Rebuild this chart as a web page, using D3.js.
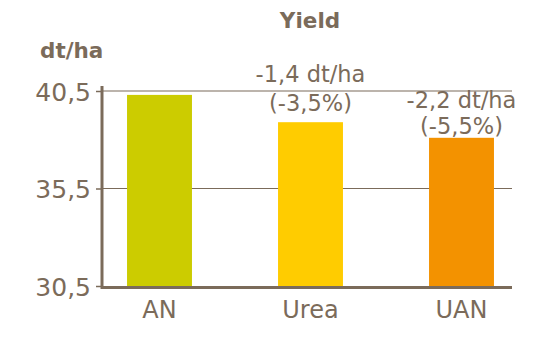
<!DOCTYPE html>
<html>
<head>
<meta charset="utf-8">
<script src="https://cdn.jsdelivr.net/npm/d3@7"></script>
<style>
  body { margin: 0; background: #fff; }
  text { font-family: "DejaVu Sans", "Open Sans", sans-serif; fill: #7b6b5a; }
</style>
</head>
<body>
<div id="chart"></div>
<script>
// data
var categories = ["AN", "Urea", "UAN"];
var values = [40.3, 38.9, 38.1];
var colors = ["#cccc00", "#ffcc00", "#f39200"];
var diffLabels = ["", "-1,4 dt/ha", "-2,2 dt/ha"];
var pctLabels = ["", "(-3,5%)", "(-5,5%)"];
var yTicks = [30.5, 35.5, 40.5];

// label placement above the bars (px above bar top: first line, second line)
var labelOffset = { "Urea": [40, 11], "UAN": [29.5, 4] };

var width = 551, height = 352;
var ink = "#7b6b5a";
var fmt = function(d) { return d3.format(".1f")(d).replace(".", ","); };

var svg = d3.select("#chart")
    .append("svg")
    .attr("width", width)
    .attr("height", height);

var x = d3.scaleBand()
    .domain(categories)
    .range([84, 537])
    .paddingInner(0.57)
    .paddingOuter(0.285);

var y = d3.scaleLinear()
    .domain([30.5, 40.5])
    .range([286, 91]);

var left = 102, right = 512;

// grid lines
svg.append("g")
  .selectAll("line")
  .data(yTicks.slice(1))
  .enter().append("line")
    .attr("x1", left).attr("x2", right)
    .attr("y1", function(d) { return y(d); })
    .attr("y2", function(d) { return y(d); })
    .style("stroke", ink)
    .style("stroke-width", 1.2);

// bars
svg.append("g")
  .selectAll("rect")
  .data(values)
  .enter().append("rect")
    .attr("x", function(d, i) { return x(categories[i]); })
    .attr("width", x.bandwidth())
    .attr("y", function(d) { return y(d); })
    .attr("height", function(d) { return y(30.5) - y(d); })
    .style("fill", function(d, i) { return colors[i]; });

// y axis
var yAxis = svg.append("g")
    .attr("transform", "translate(" + left + ",0)")
    .call(d3.axisLeft(y).tickValues(yTicks).tickFormat(fmt).tickSize(6).tickPadding(5));
yAxis.select(".domain").remove();
yAxis.selectAll(".tick line").style("stroke", ink).style("stroke-width", 1.5);
yAxis.selectAll(".tick text")
    .style("font-size", "25px")
    .style("font-family", "'DejaVu Sans', sans-serif")
    .style("fill", ink)
    .attr("dy", "0.36em");
svg.append("line")
    .attr("x1", left).attr("x2", left)
    .attr("y1", 86).attr("y2", 289)
    .style("stroke", ink).style("stroke-width", 3);

// x axis
svg.append("line")
    .attr("x1", left).attr("x2", right)
    .attr("y1", 287.5).attr("y2", 287.5)
    .style("stroke", ink).style("stroke-width", 3);

svg.append("g")
  .selectAll("text")
  .data(categories)
  .enter().append("text")
    .attr("x", function(d) { return x(d) + x.bandwidth() / 2; })
    .attr("y", 318)
    .attr("text-anchor", "middle")
    .style("font-size", "24px")
    .text(function(d) { return d; });

// annotations
var ann = svg.append("g");
values.forEach(function(v, i) {
  if (!diffLabels[i]) return;
  var cx = x(categories[i]) + x.bandwidth() / 2;
  var off = labelOffset[categories[i]];
  ann.append("text")
    .attr("x", cx).attr("y", y(v) - off[0])
    .attr("text-anchor", "middle")
    .style("font-size", "22.5px")
    .text(diffLabels[i]);
  ann.append("text")
    .attr("x", cx).attr("y", y(v) - off[1])
    .attr("text-anchor", "middle")
    .style("font-size", "22.5px")
    .text(pctLabels[i]);
});

// title + unit
svg.append("text")
    .attr("x", 310).attr("y", 28)
    .attr("text-anchor", "middle")
    .style("font-size", "21.5px")
    .style("font-weight", "bold")
    .text("Yield");
svg.append("text")
    .attr("x", 40).attr("y", 58)
    .style("font-size", "21.5px")
    .style("font-weight", "bold")
    .text("dt/ha");
</script>
</body>
</html>
